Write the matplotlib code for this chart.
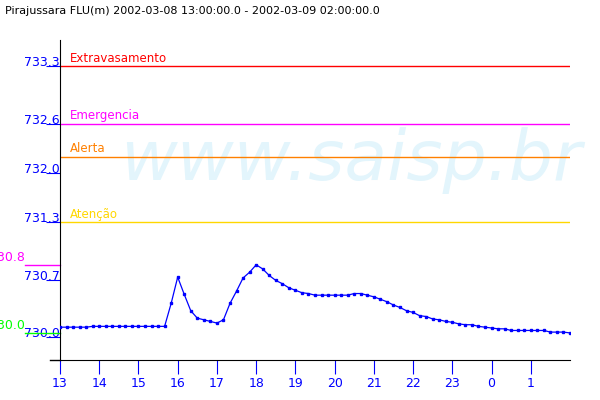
# Pirajussara FLU water level chart (SAISP style)
import numpy as np
import matplotlib
matplotlib.use("Agg")
import matplotlib.pyplot as plt

# Level readings every 10 minutes, 13:00 -> 02:00
level = [730.12, 730.12, 730.12, 730.12, 730.12,
         730.13, 730.13, 730.13, 730.13, 730.13, 730.13,
         730.13, 730.13, 730.13, 730.13, 730.13, 730.13,
         730.41, 730.73, 730.52, 730.32, 730.23, 730.21, 730.19,
         730.17, 730.21, 730.41, 730.56, 730.72, 730.79,
         730.88, 730.83, 730.75, 730.69, 730.65, 730.60,
         730.57, 730.54, 730.53, 730.51, 730.51, 730.51,
         730.51, 730.51, 730.51, 730.53, 730.53, 730.51,
         730.49, 730.46, 730.43, 730.39, 730.36, 730.32,
         730.30, 730.26, 730.25, 730.22, 730.21, 730.19,
         730.18, 730.16, 730.15, 730.15, 730.13, 730.12,
         730.11, 730.10, 730.10, 730.08, 730.08, 730.08,
         730.08, 730.08, 730.08, 730.06, 730.06, 730.06,
         730.05]
hours = 13 + np.arange(len(level)) / 6.0

# alarm levels
thr_names = ["Extravasamento", "Emergencia", "Alerta", "Atenção"]
thr_values = [733.3, 732.6, 732.2, 731.4]
thr_colors = ["#ff0000", "#ff00ff", "#ff8000", "#ffd700"]

ytick_vals = [730.0, 730.7, 731.4, 732.0, 732.6, 733.3]
ytick_labels = ["730.0", "730.7", "731.3", "732.0", "732.6", "733.3"]
xtick_vals = list(range(13, 26))
xtick_labels = ["13", "14", "15", "16", "17", "18", "19", "20", "21", "22", "23", "0", "1"]

max_val, max_label = 730.88, "730.8"
min_val, min_label = 730.05, "730.0"

fig = plt.figure(figsize=(6, 4), dpi=100)
ax = fig.add_axes([0.1, 0.1, 0.85, 0.8])
ax.set_xlim(13, 26)
ax.set_ylim(729.72, 733.62)

# watermark
ax.text(60 / 510, 0.5625, "www.saisp.br", transform=ax.transAxes,
        fontsize=50, style="italic", color="#e3f5fc", va="baseline",
        ha="left", zorder=0, clip_on=False)

for name, v, c in zip(thr_names, thr_values, thr_colors):
    ax.axhline(v, color=c, lw=1, zorder=1)
    ax.text(10 / 510, v + 0.02, name, color=c, fontsize=8.5,
            transform=ax.get_yaxis_transform(), va="bottom", ha="left")

# max / min markers left of the axis
for v, lab, c in [(max_val, max_label, "#ff00ff"), (min_val, min_label, "#00ff00")]:
    ax.plot([-35 / 510, 0], [v, v], color=c, lw=1,
            transform=ax.get_yaxis_transform(), clip_on=False)
    ax.text(-35 / 510, v + 0.01, lab, color=c, fontsize=9,
            transform=ax.get_yaxis_transform(), ha="right", va="bottom")

ax.plot(hours, level, color="#0000ff", lw=0.9, marker="s", markersize=1.5, zorder=3)

for s in ["top", "right"]:
    ax.spines[s].set_visible(False)
ax.spines["left"].set_color("black")
ax.spines["bottom"].set_color("black")
ax.plot([-10 / 510, 0], [0, 0], color="black", lw=1, transform=ax.transAxes, clip_on=False)

ax.set_yticks(ytick_vals)
ax.set_yticklabels(ytick_labels)
ax.set_xticks(xtick_vals)
ax.set_xticklabels(xtick_labels)
ax.tick_params(axis="y", length=10, color="#0000ff", labelcolor="#0000ff",
               labelsize=9, pad=-10)
ax.tick_params(axis="x", length=10, color="#0000ff", labelcolor="#0000ff",
               labelsize=9, pad=2)
for t in ax.get_yticklabels():
    t.set_verticalalignment("baseline")

fig.text(5 / 600, 1 - 11 / 400, "Pirajussara FLU(m) 2002-03-08 13:00:00.0 - 2002-03-09 02:00:00.0",
         fontsize=8, va="center", ha="left", color="black")

fig.savefig("out.png", dpi=100)
